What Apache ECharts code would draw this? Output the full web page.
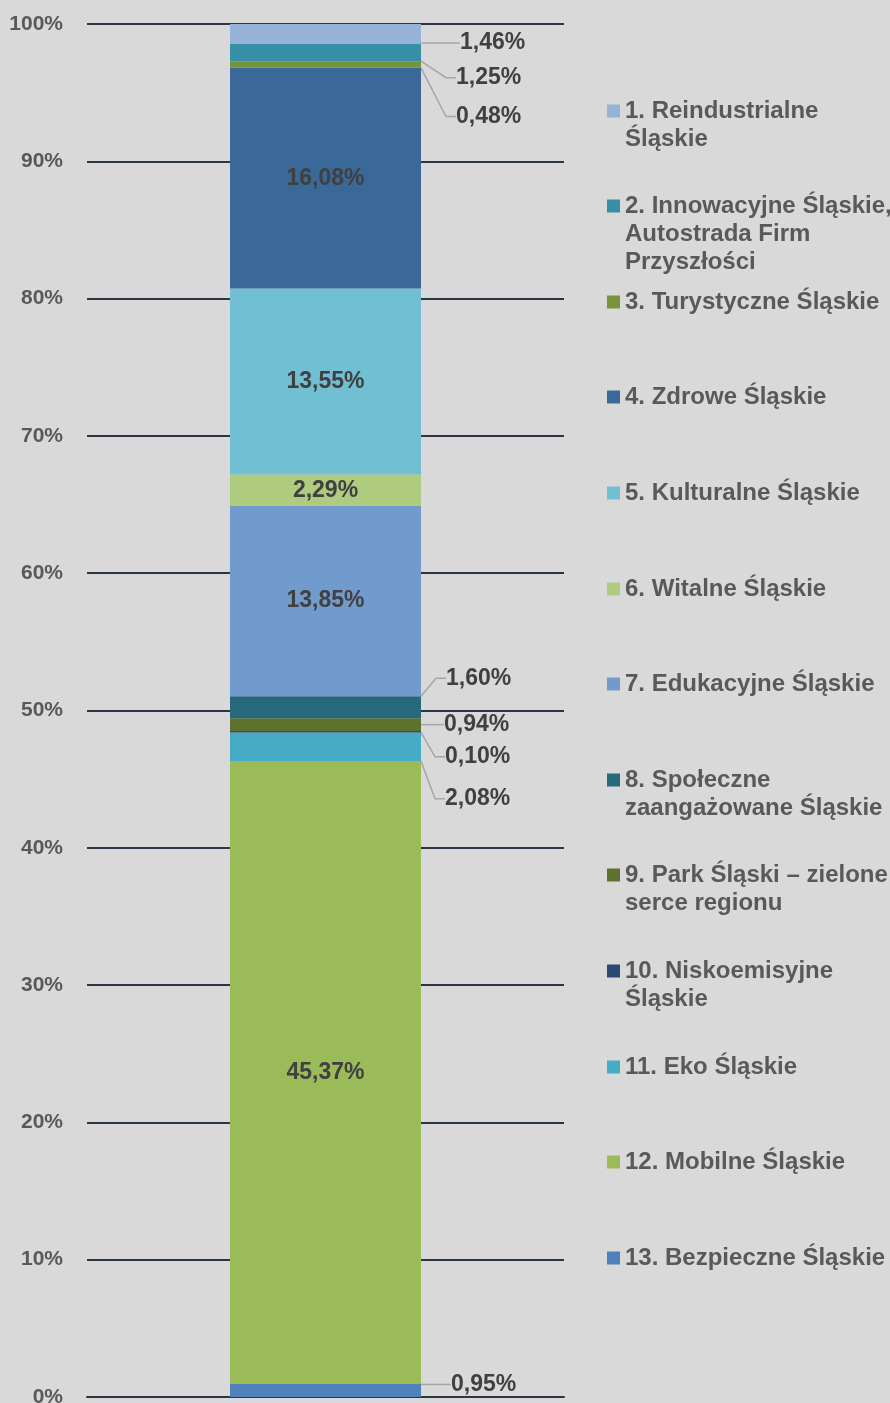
<!DOCTYPE html>
<html>
<head>
<meta charset="utf-8">
<script src="https://cdn.jsdelivr.net/npm/echarts@6/dist/echarts.min.js"></script>
<style>
  html, body { margin: 0; padding: 0; background: #d9d9d9; }
  #chart { width: 890px; height: 1403px; }
</style>
</head>
<body>
<div id="chart"></div>
<script>
// legend texts (with the line breaks used in the picture), top item first
var legendText = [
    '1. Reindustrialne\nŚląskie',
    '2. Innowacyjne Śląskie,\nAutostrada Firm\nPrzyszłości',
    '3. Turystyczne Śląskie',
    '4. Zdrowe Śląskie',
    '5. Kulturalne Śląskie',
    '6. Witalne Śląskie',
    '7. Edukacyjne Śląskie',
    '8. Społeczne\nzaangażowane Śląskie',
    '9. Park Śląski – zielone\nserce regionu',
    '10. Niskoemisyjne\nŚląskie',
    '11. Eko Śląskie',
    '12. Mobilne Śląskie',
    '13. Bezpieczne Śląskie'
];
var shares = [1.46, 1.25, 0.48, 16.08, 13.55, 2.29, 13.85, 1.60, 0.94, 0.10, 2.08, 45.37, 0.95];
var yTicks = [0, 10, 20, 30, 40, 50, 60, 70, 80, 90, 100];

var colors = ['#95b3d7', '#378ea7', '#77933c', '#3a6899', '#70bfd3', '#afcb7f', '#729bcd',
              '#25697a', '#5d722f', '#2a4a75', '#46acc6', '#9bbb59', '#4f81bd'];
// vertical shift (px) of labels put outside the bar; null = label inside
var labelShift = [9, 25, 52, null, null, null, null, -29, 0, 25, 52, null, -6];
// gap (px) between bar edge and outside label
var labelGap = [39, 35, 35, 0, 0, 0, 0, 25, 23, 24, 24, 0, 30];

var FONT = '"Liberation Sans", Arial, sans-serif';
var seriesNames = legendText.map(function (t) { return t.replace(/\n/g, ' '); });

function fmt(v) {
    return v.toFixed(2).replace('.', ',') + '%';
}

var series = [];
// bottom of the stack is the last item
for (var i = shares.length - 1; i >= 0; i--) {
    var inside = labelShift[i] === null;
    series.push({
        name: seriesNames[i],
        type: 'bar',
        stack: 'total',
        barWidth: 191,
        data: [shares[i]],
        itemStyle: { color: colors[i] },
        emphasis: { disabled: true },
        label: {
            show: true,
            position: inside ? 'inside' : 'right',
            distance: labelGap[i],
            formatter: function (p) { return fmt(p.value); },
            color: '#404040',
            fontFamily: FONT,
            fontWeight: 'bold',
            fontSize: 23
        },
        labelLine: {
            show: !inside,
            length2: 10,
            lineStyle: { color: '#a6a6a6', width: 1.5 }
        },
        labelLayout: inside ? null : { dy: labelShift[i] }
    });
}

var legends = legendText.map(function (t, i) {
    var n = t.split('\n').length;
    var iconY = 110.5 + 95.6 * i;
    return {
        data: [seriesNames[i]],
        orient: 'vertical',
        left: 607,
        top: Math.round(iconY - (2 * n - 1) * 14),
        padding: 0,
        icon: 'rect',
        itemWidth: 13,
        itemHeight: 13,
        formatter: function () {
            return new Array(n).join('\n') + t;
        },
        textStyle: {
            color: '#595959',
            fontFamily: FONT,
            fontWeight: 'bold',
            fontSize: 24,
            lineHeight: 28
        }
    };
});

var dom = document.getElementById('chart');
var myChart = echarts.init(dom, null, { renderer: 'canvas' });

var option = {
    backgroundColor: '#d9d9d9',
    animation: false,
    grid: { left: 87, right: 326, top: 24, bottom: 6, containLabel: false, outerBoundsMode: 'none' },
    legend: legends,
    xAxis: {
        type: 'category',
        data: [''],
        axisLine: { lineStyle: { color: '#2b3643', width: 2 } },
        axisTick: { show: false },
        axisLabel: { show: false }
    },
    yAxis: {
        type: 'value',
        min: yTicks[0],
        max: yTicks[yTicks.length - 1],
        interval: yTicks[1] - yTicks[0],
        axisLine: { show: false },
        axisTick: { show: false },
        axisLabel: {
            formatter: '{value}%',
            color: '#595959',
            fontFamily: FONT,
            fontWeight: 'bold',
            fontSize: 21,
            margin: 24
        },
        splitLine: { lineStyle: { color: '#2b3643', width: 2 } }
    },
    series: series
};

myChart.setOption(option);
window.addEventListener('resize', myChart.resize);
</script>
</body>
</html>
